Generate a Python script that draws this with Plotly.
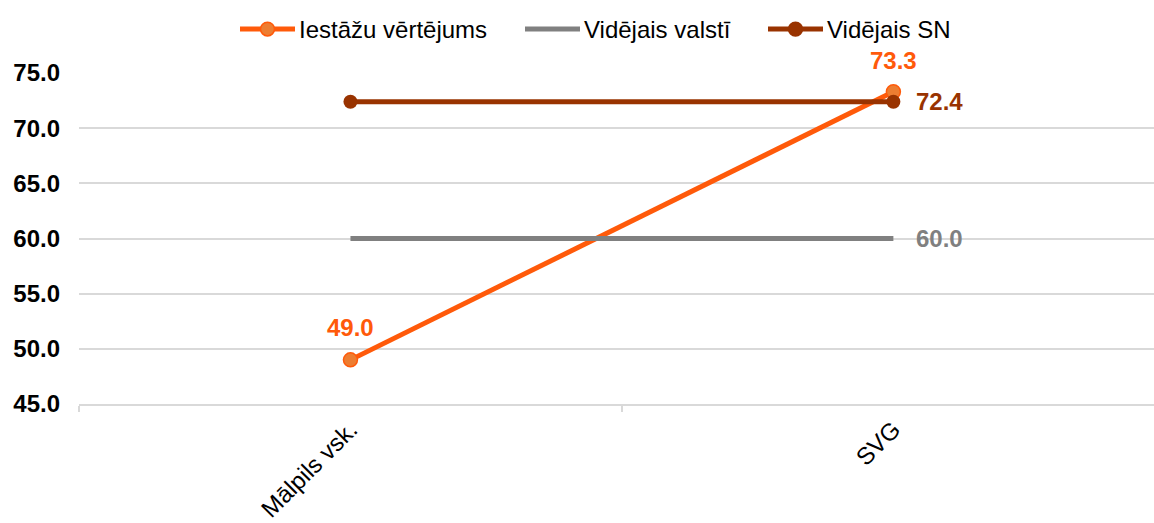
import plotly.graph_objects as go

categories = ["Mālpils vsk.", "SVG"]
iestazu = [49.0, 73.3]
valsti = [60.0, 60.0]
sn = [72.4, 72.4]

series_names = ["Iestāžu vērtējums", "Vidējais valstī", "Vidējais SN"]
y_ticks = [45, 50, 55, 60, 65, 70, 75]

ORANGE = "#FF5A0A"
ORANGE_FILL = "#ED7D31"
GREY = "#808080"
BROWN = "#993300"
FONT = "Liberation Sans, Arial, sans-serif"
LABEL_SIZE = 24

W, H = 1154, 523
M_L, M_R, M_T, M_B = 79, 0, 73, 111
PLOT_W = W - M_L - M_R
PLOT_H = H - M_T - M_B

fig = go.Figure()

fig.add_trace(go.Scatter(
    x=categories, y=iestazu, name=series_names[0],
    mode="lines+markers",
    line=dict(color=ORANGE, width=5),
    marker=dict(size=14, color=ORANGE_FILL, line=dict(color=ORANGE, width=1.5)),
    cliponaxis=False,
))

fig.add_trace(go.Scatter(
    x=categories, y=valsti, name=series_names[1],
    mode="lines",
    line=dict(color=GREY, width=5),
    cliponaxis=False,
))

fig.add_trace(go.Scatter(
    x=categories, y=sn, name=series_names[2],
    mode="lines+markers",
    line=dict(color=BROWN, width=5),
    marker=dict(size=14, color=BROWN),
    cliponaxis=False,
))

# value labels
labels = [
    (categories[0], iestazu[0], ORANGE, 0, 32),
    (categories[1], iestazu[1], ORANGE, 0, 31),
    (categories[1], sn[1], BROWN, 46, 0),
    (categories[1], valsti[1], GREY, 46, 0),
]
for cx, v, col, dx, dy in labels:
    fig.add_annotation(
        x=cx, y=v, text=f"<b>{v:.1f}</b>", showarrow=False,
        xshift=dx, yshift=dy, xanchor="center", yanchor="middle",
        font=dict(color=col, size=LABEL_SIZE, family=FONT),
    )


# legend row drawn along the top, positioned in pixels
def px_x(px):
    return (px - M_L) / PLOT_W


def px_y(py):
    return (H - M_B - py) / PLOT_H


legend_items = [
    (series_names[0], ORANGE, ORANGE_FILL, 240),
    (series_names[1], GREY, None, 525),
    (series_names[2], BROWN, BROWN, 768),
]
LEG_Y = 28
SYM_LEN = 55
for name, col, fill, x0 in legend_items:
    fig.add_shape(
        type="line", xref="paper", yref="paper",
        x0=px_x(x0), x1=px_x(x0 + SYM_LEN), y0=px_y(LEG_Y), y1=px_y(LEG_Y),
        line=dict(color=col, width=5),
    )
    if fill is not None:
        cx = x0 + SYM_LEN / 2
        fig.add_shape(
            type="circle", xref="paper", yref="paper",
            x0=px_x(cx - 7), x1=px_x(cx + 7),
            y0=px_y(LEG_Y + 7), y1=px_y(LEG_Y - 7),
            fillcolor=fill, line=dict(color=col, width=1.5),
        )
    fig.add_annotation(
        xref="paper", yref="paper", x=px_x(x0 + SYM_LEN + 2), y=px_y(LEG_Y),
        text=name, showarrow=False, xanchor="left", yanchor="middle",
        font=dict(size=LABEL_SIZE, family=FONT, color="#000000"),
    )

fig.update_layout(
    width=W, height=H,
    margin=dict(l=M_L, r=M_R, t=M_T, b=M_B),
    paper_bgcolor="white", plot_bgcolor="white",
    font=dict(family=FONT, color="#000000"),
    showlegend=False,
    xaxis=dict(
        type="category",
        range=[-0.5, 1.48],
        showgrid=False,
        showline=True, linecolor="#D9D9D9", linewidth=2,
        ticks="outside", tickson="boundaries", ticklen=6,
        tickcolor="#D9D9D9", tickwidth=2,
        tickangle=-45,
        tickfont=dict(size=LABEL_SIZE, family=FONT, color="#000000"),
    ),
    yaxis=dict(
        range=[45, 75],
        tickvals=y_ticks,
        ticktext=[f"<b>{v:.1f}</b>" for v in y_ticks],
        showgrid=True, gridcolor="#D9D9D9", gridwidth=2,
        zeroline=False, showline=False,
        ticks="", ticklabelstandoff=18,
        tickfont=dict(size=LABEL_SIZE, family=FONT, color="#000000"),
    ),
)

fig.write_html("out.html")
